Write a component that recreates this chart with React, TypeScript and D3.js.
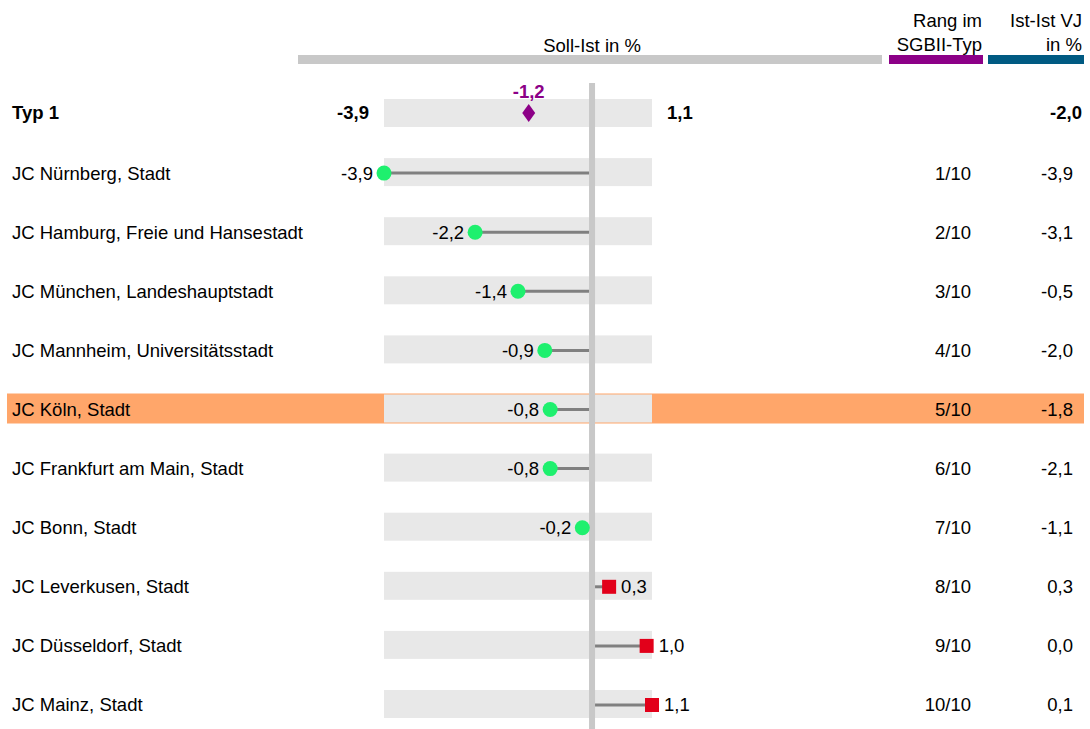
import React from "react";
import * as d3 from "d3";

const categories = [
  "JC Nürnberg, Stadt",
  "JC Hamburg, Freie und Hansestadt",
  "JC München, Landeshauptstadt",
  "JC Mannheim, Universitätsstadt",
  "JC Köln, Stadt",
  "JC Frankfurt am Main, Stadt",
  "JC Bonn, Stadt",
  "JC Leverkusen, Stadt",
  "JC Düsseldorf, Stadt",
  "JC Mainz, Stadt",
];
const sollIst = [-3.9, -2.2, -1.4, -0.9, -0.8, -0.8, -0.2, 0.3, 1.0, 1.1];
const ranks = ["1/10", "2/10", "3/10", "4/10", "5/10", "6/10", "7/10", "8/10", "9/10", "10/10"];
const istIstVJ = [-3.9, -3.1, -0.5, -2.0, -1.8, -2.1, -1.1, 0.3, 0.0, 0.1];
const highlight = "JC Köln, Stadt";

const typLabel = "Typ 1";
const typMin = -3.9;
const typMax = 1.1;
const typAvg = -1.2;
const typIstIst = -2.0;

const fmt = (v: number) => d3.format(".1f")(v).replace(".", ",").replace("−", "-");

const FONT = "'Liberation Sans', Arial, sans-serif";

export default function App() {
  const x = d3.scaleLinear().domain([typMin, typMax]).range([384, 652]);
  const rows = [typLabel, ...categories];
  const y = d3.scalePoint<string>().domain(rows).range([113, 704]);
  const x0 = x(0) - 1;
  const bandH = 28;

  return (
    <svg
      width={1090}
      height={729}
      style={{ position: "absolute", left: 0, top: 0, background: "#fff" }}
      fontFamily={FONT}
      fontSize={18.5}
    >
      {/* header */}
      <text x={x0} y={52} textAnchor="middle">Soll-Ist in %</text>
      <rect x={298} y={55} width={584} height={9} fill="#C8C8C8" />
      <text x={982} y={27} textAnchor="end">Rang im</text>
      <text x={982} y={51} textAnchor="end">SGBII-Typ</text>
      <rect x={889} y={55} width={94} height={9} fill="#8C0087" />
      <text x={1082} y={27} textAnchor="end">Ist-Ist VJ</text>
      <text x={1082} y={51} textAnchor="end">in %</text>
      <rect x={988} y={55} width={96} height={9} fill="#005A82" />

      {/* highlight row */}
      {categories.map((c) =>
        c === highlight ? (
          <rect key={"hl" + c} x={7} y={(y(c) as number) - 15} width={1077} height={30} fill="#FFA66A" />
        ) : null
      )}

      {/* bands */}
      {rows.map((r) => (
        <rect key={"b" + r} x={x(typMin)} y={(y(r) as number) - bandH / 2} width={x(typMax) - x(typMin)} height={bandH} fill="#E8E8E8" />
      ))}

      {/* zero line */}
      <line x1={x0} x2={x0} y1={83} y2={729} stroke="#C8C8C8" strokeWidth={6} />

      {/* typ row */}
      <g fontWeight="bold">
        <text x={12} y={y(typLabel)} dy="0.35em">{typLabel}</text>
        <text x={369} y={y(typLabel)} dy="0.35em" textAnchor="end">{fmt(typMin)}</text>
        <text x={667} y={y(typLabel)} dy="0.35em">{fmt(typMax)}</text>
        <text x={1082} y={y(typLabel)} dy="0.35em" textAnchor="end">{fmt(typIstIst)}</text>
        <text x={x(typAvg)} y={(y(typLabel) as number) - 21} dy="0.35em" textAnchor="middle" fill="#8C0087">{fmt(typAvg)}</text>
      </g>
      <path
        d={`M${x(typAvg)},${(y(typLabel) as number) - 9} l6.5,9 l-6.5,9 l-6.5,-9 Z`}
        fill="#8C0087"
      />

      {/* rows */}
      {categories.map((c, i) => {
        const v = sollIst[i];
        const cy = (y(c) as number) + 1;
        const cx = x(v);
        const neg = v < 0;
        return (
          <g key={c}>
            <text x={12} y={cy} dy="0.35em">{c}</text>
            <line
              x1={neg ? x0 - 3 : x0 + 3}
              x2={cx}
              y1={cy}
              y2={cy}
              stroke="#808080"
              strokeWidth={3}
            />
            {neg ? (
              <circle cx={cx} cy={cy} r={7.5} fill="#1EF06E" />
            ) : (
              <rect x={cx - 7} y={cy - 7} width={14} height={14} fill="#E2001A" />
            )}
            <text
              x={neg ? cx - 11 : cx + 12}
              y={cy}
              dy="0.35em"
              textAnchor={neg ? "end" : "start"}
            >
              {fmt(v)}
            </text>
            <text x={971} y={cy} dy="0.35em" textAnchor="end">{ranks[i]}</text>
            <text x={1073} y={cy} dy="0.35em" textAnchor="end">{fmt(istIstVJ[i])}</text>
          </g>
        );
      })}
    </svg>
  );
}
